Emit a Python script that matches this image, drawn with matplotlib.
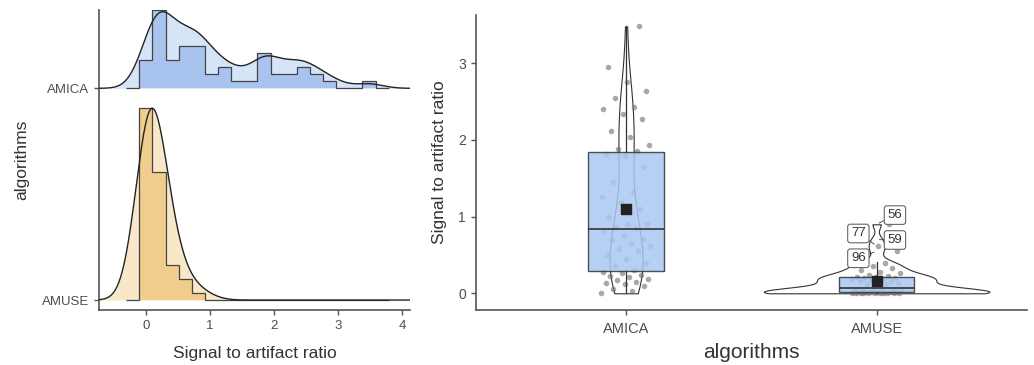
import numpy as np
import matplotlib
matplotlib.use("Agg")
import matplotlib.pyplot as plt

plt.rcParams['font.family'] = ['Liberation Sans', 'DejaVu Sans']

# ---------------- data ----------------
categories = ['AMICA', 'AMUSE']
amica = [0.00, 0.03, 0.06, 0.09,
         0.12, 0.13, 0.15, 0.17, 0.19, 0.21, 0.22, 0.24, 0.26, 0.28, 0.30,
         0.35, 0.40, 0.45, 0.50,
         0.55, 0.58, 0.62, 0.65, 0.69, 0.71,
         0.76, 0.82, 0.85, 0.87, 0.90, 0.91,
         1.00, 1.10,
         1.18, 1.26, 1.32,
         1.45, 1.65,
         1.79, 1.82, 1.85, 1.88, 1.93,
         2.04, 2.12, 2.27, 2.34,
         2.40, 2.43, 2.55, 2.64, 2.75, 2.95, 3.48]
amuse = [0.000, 0.001, 0.002, 0.003, 0.004, 0.005, 0.006, 0.007, 0.008, 0.009,
         0.010, 0.011, 0.012, 0.013, 0.015, 0.017, 0.019, 0.020, 0.021, 0.022,
         0.023, 0.024, 0.025, 0.026, 0.027, 0.028, 0.030,
         0.116, 0.125, 0.135, 0.145, 0.155, 0.165, 0.175, 0.180, 0.190, 0.200,
         0.205, 0.208, 0.212, 0.220, 0.240, 0.260, 0.280, 0.300,
         0.33, 0.35, 0.37, 0.39, 0.41,
         0.55, 0.62, 0.70, 0.90]
outlier_ids = [56, 59, 77, 96]
outlier_vals = [0.90, 0.70, 0.62, 0.55]
n_bins = 18

groups = [np.array(amica), np.array(amuse)]

# ---------------- helpers ----------------
def nrd0(x):
    x = np.asarray(x)
    sd = np.std(x, ddof=1)
    q75, q25 = np.percentile(x, [75, 25])
    lo = min(sd, (q75 - q25) / 1.34)
    return 0.9 * lo * len(x) ** (-0.2)

def kde(x, grid, bw):
    z = (grid[:, None] - x[None, :]) / bw
    return np.exp(-0.5 * z ** 2).sum(1) / (len(x) * bw * np.sqrt(2 * np.pi))

fig = plt.figure(figsize=(10.34, 3.65), dpi=100)

txt_col = '#4d4d4d'
ttl_col = '#333333'
spine_col = '#555555'

# ---------------- left: ridgeline with histogram ----------------
axL = fig.add_axes([99/1034, 1-310/365, (410-99)/1034, 300/365])
xlimL = (-0.73, 4.12)
axL.set_xlim(*xlimL)
axL.set_ylim(0.953, 2.37)

pooled = np.concatenate(groups)
lo, hi = pooled.min(), pooled.max()
bw_w = (hi - lo) / (n_bins - 1)
edges = lo - bw_w / 2 + bw_w * np.arange(n_bins + 1)
edges_p = np.concatenate([[edges[0] - bw_w], edges, [edges[-1] + bw_w]])

joint_bw = np.mean([nrd0(g) for g in groups])
grid = np.linspace(xlimL[0], xlimL[1], 600)
ridge_height = 0.906   # tallest ridge in each layer, in y units
base_pos = {'AMICA': 2, 'AMUSE': 1}
hist_col = {'AMICA': '#a3c1ee', 'AMUSE': '#efc987'}
dens_col = {'AMICA': '#d6e4f7', 'AMUSE': '#f9e7ca'}

dens = [kde(g, grid, joint_bw) for g in groups]
hists = []
for g in groups:
    cnt, _ = np.histogram(g, bins=edges)
    hists.append(np.concatenate([[0], cnt / (len(g) * bw_w), [0]]))
d_scale = ridge_height / max(d.max() for d in dens)
h_scale = ridge_height / max(h.max() for h in hists)

for name, d, hd in zip(categories, dens, hists):
    b = base_pos[name]
    axL.fill_between(grid, b, b + d_scale * d, color=dens_col[name], lw=0, zorder=1)
    axL.stairs(b + h_scale * hd, edges_p, baseline=b, fill=True,
               color=hist_col[name], lw=0, alpha=0.9, zorder=2)
    axL.stairs(b + h_scale * hd, edges_p, baseline=b, fill=False,
               color='#444444', lw=0.9, zorder=3)
    axL.plot(grid, b + d_scale * d, color='#222222', lw=1.0, zorder=4)

axL.set_yticks([base_pos[c] for c in categories])
axL.set_yticklabels(categories)
axL.set_xticks([0, 1, 2, 3, 4])
axL.set_xlabel('Signal to artifact ratio', fontsize=12.5, color=ttl_col, labelpad=10)
axL.set_ylabel('algorithms', fontsize=12.5, color=ttl_col, labelpad=9)

# ---------------- right: violin + box + jitter ----------------
axR = fig.add_axes([475.7/1034, 1-310/365, (1027-475.7)/1034, 295/365])
axR.set_xlim(0.4, 2.6)
axR.set_ylim(-0.218, 3.63)
positions = [1, 2]

vdens = []
for g in groups:
    yy = np.linspace(g.min(), g.max(), 400)
    vdens.append((yy, kde(g, yy, nrd0(g))))
dmax = max(d.max() for _, d in vdens)
for p, (yy, d) in zip(positions, vdens):
    hw = 0.45 * d / dmax
    axR.fill_betweenx(yy, p - hw, p + hw, facecolor='white', edgecolor='#333333',
                      lw=0.8, zorder=1)

for p, g in zip(positions, groups):
    k = np.arange(len(g))
    off = ((k * 0.6180339887) % 1.0 - 0.5) * 0.2
    axR.scatter(p + off, g, s=16, color='#707070', alpha=0.6, lw=0, zorder=2)

bp = axR.boxplot(groups, positions=positions, widths=0.3, patch_artist=True,
                 showfliers=False, showcaps=False, whis=1.5,
                 boxprops=dict(facecolor='#a9c8f1', edgecolor='#333333', lw=1.0, alpha=0.85),
                 medianprops=dict(color='#333333', lw=1.2),
                 whiskerprops=dict(color='#333333', lw=0.9), zorder=3)
for p, g in zip(positions, groups):
    axR.scatter([p], [g.mean()], marker='s', s=45, color='#222222', zorder=5)

label_xy = {56: (2.073, 1.02), 59: (2.073, 0.695), 77: (1.927, 0.78), 96: (1.927, 0.457)}
for oid, val in zip(outlier_ids, outlier_vals):
    axR.annotate(str(oid), xy=(2, val), xytext=label_xy[oid], ha='center', va='center',
                 fontsize=9.5, color='#333333', zorder=6,
                 bbox=dict(boxstyle='round,pad=0.25,rounding_size=0.2', fc='white', ec='#666666', lw=0.8),
                 arrowprops=dict(arrowstyle='-', color='#333333', lw=0.6, shrinkA=0, shrinkB=2))

axR.set_xticks(positions)
axR.set_xticklabels(categories)
axR.set_yticks([0, 1, 2, 3])
axR.set_xlabel('algorithms', fontsize=15, color=ttl_col, labelpad=5)
axR.set_ylabel('Signal to artifact ratio', fontsize=12.5, color=ttl_col, labelpad=8)

for ax in (axL, axR):
    for s in ('top', 'right'):
        ax.spines[s].set_visible(False)
    for s in ('left', 'bottom'):
        ax.spines[s].set_color(spine_col)
        ax.spines[s].set_linewidth(1.2)
    ax.tick_params(colors=spine_col, labelcolor=txt_col, labelsize=9.5, length=3.5, width=1.0)
axR.tick_params(axis='x', labelsize=10.5, pad=5)
axR.tick_params(axis='y', labelsize=10)

fig.savefig('out.png', dpi=100)
